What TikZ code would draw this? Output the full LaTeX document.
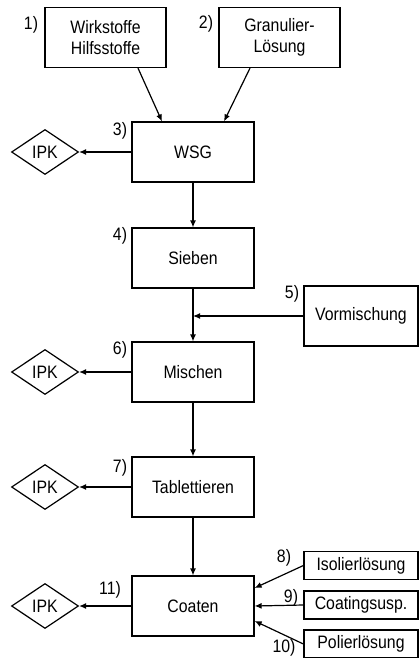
\documentclass[tikz,border=0pt]{standalone}
\usepackage{fontspec}
\setmainfont{Liberation Sans}[FakeStretch=0.88]
\usetikzlibrary{arrows.meta, positioning, shapes.geometric}

\begin{document}
\begin{tikzpicture}
  [
  x=1pt, y=-1pt, on grid, line width=1.2pt, >={Latex[length=7pt,width=6pt]},
  font=\fontsize{18}{21.5}\selectfont,
  stepbox/.style={draw, minimum width=122pt, minimum height=60pt, inner sep=0pt, align=center},
  feedbox/.style={draw, minimum width=114pt, minimum height=28pt, inner sep=0pt},
  ipk/.style={draw, diamond, inner sep=0pt, minimum width=67pt, minimum height=45pt},
  num/.style={inner sep=0pt}
  ]
  \useasboundingbox (0,0) rectangle (419,658);
  \clip (0,0) rectangle (419,658);

  % main column
  \node[stepbox, minimum width=121pt] (wirk)  at (105.5,37.5) {Wirkstoffe\\Hilfsstoffe};
  \node[stepbox, minimum width=121pt] (granu) at (279.5,37.5) {Granulier-\\Lösung};
  \node[stepbox] (wsg)    at (193,152) {WSG};
  \node[stepbox] (sieben) at (193,258) {Sieben};
  \node[stepbox] (misch)  at (193,372) {Mischen};
  \node[stepbox] (tabl)   at (193,487) {Tablettieren};
  \node[stepbox] (coat)   at (193,606) {Coaten};

  % side inputs
  \node[stepbox, minimum width=114pt] (vorm) at (361,316) {Vormischung};
  \node[feedbox] (isol) at (361,565.5) {Isolierlösung};
  \node[feedbox] (susp) at (361,605)   {Coatingsusp.};
  \node[feedbox] (pol)  at (361,644)   {Polierlösung};

  % in-process controls
  \node[ipk] (ipk1) [left=148pt of wsg]   {IPK};
  \node[ipk] (ipk2) [left=148pt of misch] {IPK};
  \node[ipk] (ipk3) [left=148pt of tabl]  {IPK};
  \node[ipk] (ipk4) [left=148pt of coat]  {IPK};

  % step numbers
  \node[num] (n1)  at (31,25)   {1)};
  \node[num] (n2)  at (206,24)  {2)};
  \node[num] (n3)  at (120,131) {3)};
  \node[num] (n4)  at (120,236) {4)};
  \node[num] (n5)  at (292,294) {5)};
  \node[num] (n6)  at (120,350) {6)};
  \node[num] (n7)  at (120,468) {7)};
  \node[num] (n8)  at (284,558) {8)};
  \node[num] (n9)  at (291,598) {9)};
  \node[num] (n10) at (284,648) {10)};
  \node[num] (n11) at (110,590) {11)};

  \draw[->] ([xshift=32.5pt]wirk.south) -- ([xshift=-31pt]wsg.north);
  \draw[->] ([xshift=-29.5pt]granu.south) -- ([xshift=31pt]wsg.north);
  \draw[->] (wsg) -- (sieben);
  \draw[->] (sieben) -- (misch);
  \draw[->] (vorm.west) -- (vorm.west -| sieben.south);
  \draw[->] (misch) -- (tabl);
  \draw[->] (tabl) -- (coat);

  \draw[->] (wsg) -- (ipk1);
  \draw[->] (misch) -- (ipk2);
  \draw[->] (tabl) -- (ipk3);
  \draw[->] (coat) -- (ipk4);

  \draw[->] (isol.west) -- ([yshift=18pt]coat.east);
  \draw[->] (susp.west) -- (coat.east);
  \draw[->] (pol.west)  -- ([yshift=-15pt]coat.east);
\end{tikzpicture}
\end{document}
